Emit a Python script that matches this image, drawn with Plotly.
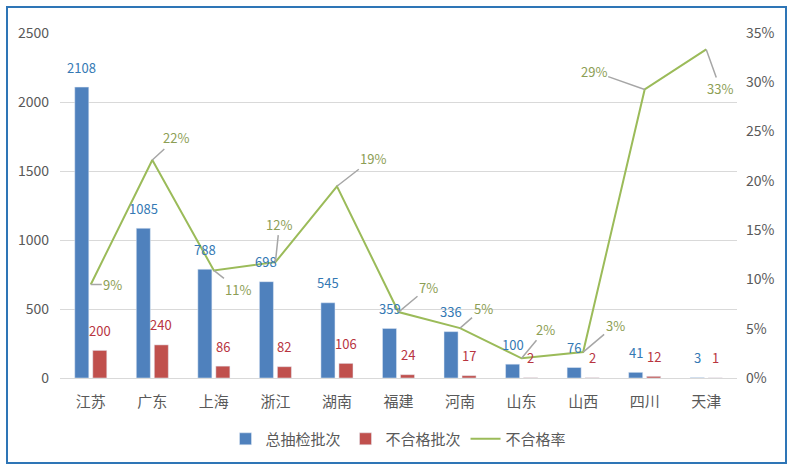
import plotly.graph_objects as go

provinces = ["江苏", "广东", "上海", "浙江", "湖南", "福建", "河南", "山东", "山西", "四川", "天津"]
total_batches = [2108, 1085, 788, 698, 545, 359, 336, 100, 76, 41, 3]
failed_batches = [200, 240, 86, 82, 106, 24, 17, 2, 2, 12, 1]
fail_rate = [0.0949, 0.2212, 0.1091, 0.1175, 0.1945, 0.0669, 0.0506, 0.0200, 0.0263, 0.2927, 0.3333]
rate_label_offsets = [(22, 0), (24, -22), (24, 19), (4, -38), (36, -28), (30, -25),
                      (23, -20), (24, -29), (32, -27), (-51, -18), (14, 39)]

BLUE = "#4F81BD"
RED = "#C0504D"
GREEN = "#9BBB59"
GRAY = "#595959"
FONT = "Noto Sans CJK SC, Noto Sans, sans-serif"

fig = go.Figure()
fig.add_trace(go.Bar(x=provinces, y=total_batches, name="总抽检批次", marker_color=BLUE))
fig.add_trace(go.Bar(x=provinces, y=failed_batches, name="不合格批次", marker_color=RED))
fig.add_trace(go.Scatter(x=provinces, y=fail_rate, name="不合格率", mode="lines",
                         line=dict(color=GREEN, width=2), yaxis="y2"))

annotations = []
for p, t, f in zip(provinces, total_batches, failed_batches):
    annotations.append(dict(x=p, y=t, xref="x", yref="y", text=str(t), showarrow=False,
                            xshift=-9, yshift=20, font=dict(size=13, color="#3479B4", family=FONT)))
    annotations.append(dict(x=p, y=f, xref="x", yref="y", text=str(f), showarrow=False,
                            xshift=9, yshift=20, font=dict(size=13, color="#B8343F", family=FONT)))
for p, r, (ax, ay) in zip(provinces, fail_rate, rate_label_offsets):
    annotations.append(dict(x=p, y=r, xref="x", yref="y2", text=f"{round(r*100)}%",
                            showarrow=True, arrowhead=0, arrowwidth=1.5, arrowcolor="#A6A6A6",
                            standoff=0, ax=ax, ay=ay,
                            font=dict(size=13, color="#8C9E54", family=FONT)))

fig.update_layout(
    width=797, height=474,
    margin=dict(l=60, r=60, t=33, b=96),
    paper_bgcolor="white", plot_bgcolor="white",
    barmode="group", bargap=0.415, bargroupgap=0.22,
    font=dict(family=FONT, color=GRAY, size=14),
    showlegend=True,
    legend=dict(orientation="h", x=0.5, xanchor="center", y=-0.177, yanchor="middle",
                font=dict(size=15, color=GRAY), itemwidth=30),
    xaxis=dict(type="category", showgrid=False, showline=False, ticks="",
               tickfont=dict(size=15, color=GRAY), ticklabelstandoff=13),
    yaxis=dict(range=[0, 2500], dtick=500, showgrid=True, gridcolor="#D9D9D9", gridwidth=1,
               zeroline=True, zerolinecolor="#D9D9D9", zerolinewidth=1,
               tickfont=dict(size=14, color=GRAY), ticklabelstandoff=10),
    yaxis2=dict(range=[0, 0.35], dtick=0.05, tickformat=".0%", overlaying="y", side="right",
                showgrid=False, zeroline=False, tickfont=dict(size=14, color=GRAY),
                ticklabelstandoff=8),
    annotations=annotations,
    shapes=[dict(type="rect", xref="paper", yref="paper",
                 x0=(7 - 60) / 677, x1=(786 - 60) / 677,
                 y0=(378 - 463) / 345, y1=(378 - 7) / 345,
                 line=dict(color="#2E75B6", width=2), fillcolor="rgba(0,0,0,0)", layer="below")],
)

fig.write_html("out.html")
